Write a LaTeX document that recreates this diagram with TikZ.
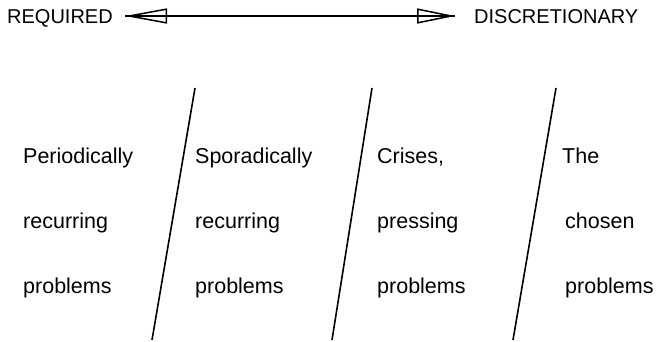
\documentclass[tikz,border=0pt]{standalone}
\usepackage{fontspec}
\setmainfont{Liberation Sans}
\usetikzlibrary{arrows.meta}
\begin{document}
\begin{tikzpicture}[x=1pt,y=-1pt,
  toplabel/.style={anchor=base west,inner sep=0pt,font=\fontsize{20}{24}\selectfont},
  celltext/.style={anchor=base west,inner sep=0pt,font=\fontsize{21.5}{26}\selectfont},
  divider/.style={line width=1.6pt},
  axis/.style={line width=1.6pt},
  axistips/.style={line width=1.5pt,{Triangle[open,length=42pt,width=15pt]}-{Triangle[open,length=38pt,width=15pt]}}]
\useasboundingbox (0,0) rectangle (657,341);
% top axis
\node[toplabel] (req) at (7,23) {REQUIRED};
\node[toplabel] (disc) at (474,23) {DISCRETIONARY};
\coordinate (al) at (125,16);
\coordinate (ar) at (455,16);
\draw[axis] (al) -- (ar);
\draw[axistips] (al) -- (ar);
% dividers
\coordinate (d1t) at (195,88); \coordinate (d1b) at (152,340);
\coordinate (d2t) at (372,88); \coordinate (d2b) at (332,340);
\coordinate (d3t) at (556,88); \coordinate (d3b) at (513,340);
\draw[divider] (d1t) -- (d1b);
\draw[divider] (d2t) -- (d2b);
\draw[divider] (d3t) -- (d3b);
% column 1
\node[celltext] (c1a) at (23,163) {Periodically};
\node[celltext] (c1b) at (23,228) {recurring};
\node[celltext] (c1c) at (23,293) {problems};
% column 2
\node[celltext] (c2a) at (195,163) {Sporadically};
\node[celltext] (c2b) at (195,228) {recurring};
\node[celltext] (c2c) at (195,293) {problems};
% column 3
\node[celltext] (c3a) at (377,163) {Crises,};
\node[celltext] (c3b) at (377,228) {pressing};
\node[celltext] (c3c) at (377,293) {problems};
% column 4
\node[celltext] (c4a) at (562,163) {The};
\node[celltext] (c4b) at (565,228) {chosen};
\node[celltext] (c4c) at (565,293) {problems};
\end{tikzpicture}
\end{document}
